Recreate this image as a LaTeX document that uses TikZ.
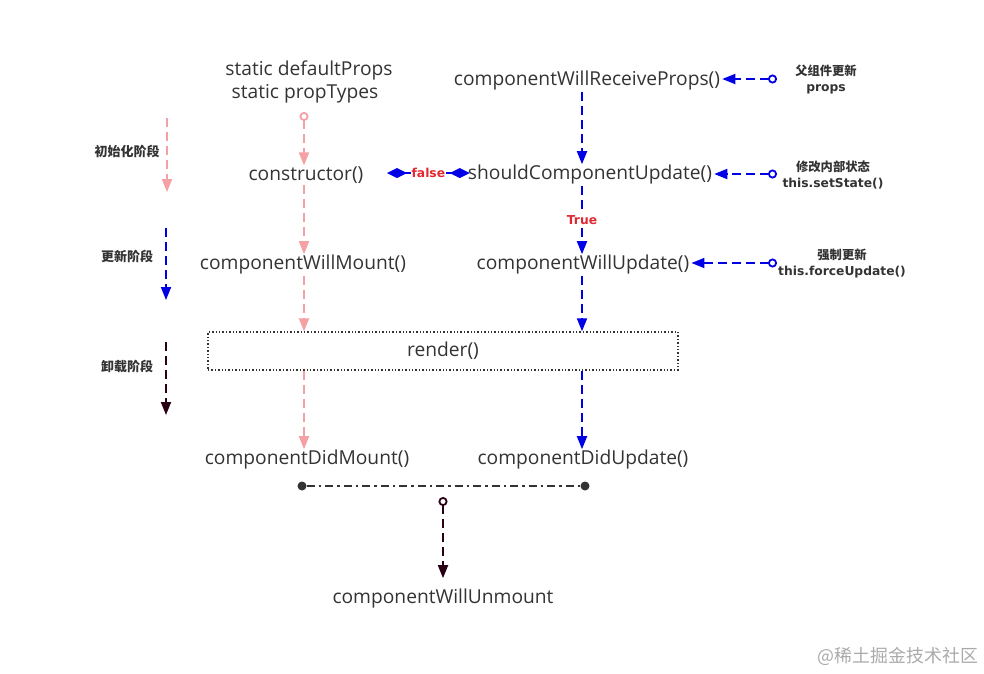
\documentclass[tikz,border=0pt]{standalone}
\usepackage{fontspec}
\setmainfont{Open Sans}
\newfontfamily\cjk{Noto Sans CJK SC}
\newfontfamily\dvb{DejaVu Sans Bold}
\usetikzlibrary{arrows.meta,calc}
\definecolor{pinkc}{RGB}{244,160,164}
\definecolor{bluec}{RGB}{0,0,230}
\definecolor{darkc}{RGB}{42,0,20}
\definecolor{textc}{RGB}{51,51,51}
\definecolor{redc}{RGB}{225,40,50}
\definecolor{wmc}{RGB}{170,170,170}
\begin{document}
\begin{tikzpicture}[x=1pt,y=-1pt,
  method/.style={font=\fontsize{19.2}{22}\selectfont, text=textc, inner xsep=2pt, inner ysep=1pt},
  phase/.style={font=\cjk\bfseries\fontsize{13}{15}\selectfont, text=textc},
  sublabel/.style={font=\fontsize{12.3}{16}\selectfont, text=textc, align=center},
  dsh/.style={dash pattern=on 9pt off 5pt, line width=1.8pt},
  tri/.style={-{Triangle[length=13pt,width=10pt]}},
  opencirc/.style={{Circle[open,length=9pt,width=9pt,line width=1.8pt]}-{Triangle[length=13pt,width=10pt]}},
  pinka/.style={draw=pinkc, dsh, tri},
  bluea/.style={draw=bluec, dsh, tri},
  darka/.style={draw=darkc, dsh, tri},
  renderbox/.style={draw=textc, dotted, line width=1.4pt, minimum width=470pt, minimum height=38pt, font=\fontsize{19.2}{22}\selectfont, text=textc},
  dot/.style={circle, fill=textc, inner sep=0pt, minimum size=9pt},
  lbl/.style={font=\dvb\fontsize{12.3}{14}\selectfont, text=redc, inner sep=1pt}
]
\useasboundingbox (0,0) rectangle (984,673);
\coordinate (colL) at (304,0);
\coordinate (colR) at (582,0);
% left column
\node[method] (sdp) at (309,70) {static defaultProps};
\node[method] (spt) at (305,94) {static propTypes};
\coordinate (c0) at (304,112);
\node[method] (cons) at (306,175) {constructor()};
\node[method] (cwm) at (303,265) {componentWillMount()};
\node[renderbox] (rnd) at (443,351) {render()};
\node[method] (cdm) at (307,460) {componentDidMount()};
% right column
\node[method] (cwrp) at (587,81) {componentWillReceiveProps()};
\node[method] (scu) at (590,175) {shouldComponentUpdate()};
\node[method] (cwu) at (583,265) {componentWillUpdate()};
\node[method] (cdu) at (583,460) {componentDidUpdate()};
% unmount
\node[dot] (d1) at (302,486) {};
\node[dot] (d2) at (585,486) {};
\coordinate (u0) at (443,497);
\node[method] (cwun) at (443,598) {componentWillUnmount};
% pink chain
\draw[draw=pinkc, dsh, opencirc, color=pinkc] (c0) -- (cons.north -| colL);
\draw[pinka] (cons.south -| colL) -- (cwm.north -| colL);
\draw[pinka] (cwm.south -| colL) -- (rnd.north -| colL);
\draw[pinka] (rnd.south -| colL) -- (cdm.north -| colL);
% blue chain
\draw[bluea] (cwrp.south -| colR) -- (scu.north -| colR);
\draw[bluea] (scu.south -| colR) -- node[lbl, fill=white] {True} (cwu.north -| colR);
\draw[bluea] (cwu.south -| colR) -- (rnd.north -| colR);
\draw[bluea] (rnd.south -| colR) -- (cdu.north -| colR);
% false link
\coordinate (fl) at (387,173);
\draw[draw=bluec, line width=1.6pt, {Diamond[length=20pt,width=10pt,fill=bluec]}-{Diamond[length=20pt,width=10pt,fill=bluec]}, color=bluec]
  (fl) -- node[lbl, fill=white] {false} ([xshift=4pt]fl -| scu.west);
% right triggers
\coordinate (p1) at (777,79);
\coordinate (p2) at (777,174);
\coordinate (p3) at (777,263);
\draw[draw=bluec, dsh, opencirc, color=bluec] (p1) -- (p1 -| cwrp.east);
\draw[draw=bluec, dsh, opencirc, color=bluec] (p2) -- (p2 -| scu.east);
\draw[draw=bluec, dsh, opencirc, color=bluec] (p3) -- (p3 -| cwu.east);
\node[sublabel] (t1) at (826,79) {{\cjk\bfseries 父组件更新}\\{\dvb props}};
\node[sublabel] (t2) at (833,175) {{\cjk\bfseries 修改内部状态}\\{\dvb this.setState()}};
\node[sublabel] (t3) at (842,263) {{\cjk\bfseries 强制更新}\\{\dvb this.forceUpdate()}};
% legend
\node[phase] (g1) at (127,151) {初始化阶段};
\node[phase] (g2) at (127,256) {更新阶段};
\node[phase] (g3) at (127,367) {卸载阶段};
\coordinate (g1s) at (167,118); \coordinate (g1e) at (167,192);
\coordinate (g2s) at (166,228); \coordinate (g2e) at (166,300);
\coordinate (g3s) at (166,342); \coordinate (g3e) at (166,415);
\draw[pinka] (g1s) -- (g1e);
\draw[bluea] (g2s) -- (g2e);
\draw[darka] (g3s) -- (g3e);
% unmount connectors
\draw[draw=textc, line width=1.4pt, dash pattern=on 8pt off 4pt on 2.5pt off 4pt] (d1) -- (d2);
\draw[draw=darkc, dsh, opencirc, color=darkc, shorten >=9pt] (u0) -- (cwun.north);
% watermark
\node[font=\cjk\fontsize{17.9}{20}\selectfont, text=wmc] (wm) at (898,656) {@稀土掘金技术社区};
\end{tikzpicture}
\end{document}
